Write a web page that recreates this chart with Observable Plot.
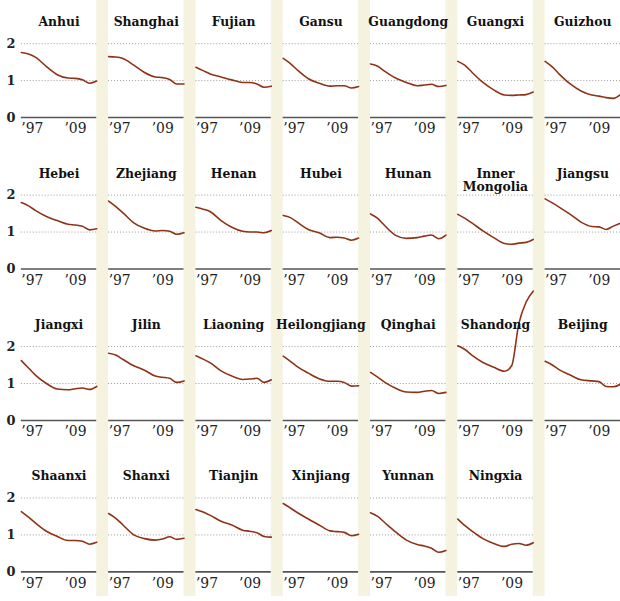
<!DOCTYPE html>
<html><head><meta charset="utf-8">
<script src="https://cdn.jsdelivr.net/npm/d3@7"></script>
<script src="https://cdn.jsdelivr.net/npm/@observablehq/plot@0.6"></script>
<style>
html,body{margin:0;padding:0;background:#fff;overflow:hidden}
#chart{width:620px;height:601px;overflow:hidden;position:relative}
</style></head><body><div id="chart"></div>
<script>
const years = [1997, 1999, 2001, 2004, 2007, 2010, 2012, 2014, 2016, 2018];
const provinces = ["Anhui","Shanghai","Fujian","Gansu","Guangdong","Guangxi","Guizhou",
  "Hebei","Zhejiang","Henan","Hubei","Hunan","Inner Mongolia","Jiangsu",
  "Jiangxi","Jilin","Liaoning","Heilongjiang","Qinghai","Shandong","Beijing",
  "Shaanxi","Shanxi","Tianjin","Xinjiang","Yunnan","Ningxia"];
const anhui     = [1.76, 1.72, 1.63, 1.38, 1.16, 1.07, 1.06, 1.02, 0.93, 0.99];
const shanghai  = [1.65, 1.64, 1.60, 1.42, 1.22, 1.10, 1.08, 1.03, 0.91, 0.91];
const fujian    = [1.36, 1.27, 1.18, 1.10, 1.02, 0.95, 0.95, 0.91, 0.82, 0.85];
const gansu     = [1.60, 1.46, 1.28, 1.05, 0.93, 0.85, 0.86, 0.86, 0.80, 0.84];
const guangdong = [1.45, 1.39, 1.25, 1.07, 0.95, 0.86, 0.88, 0.90, 0.84, 0.87];
const guangxi   = [1.52, 1.41, 1.22, 0.95, 0.75, 0.61, 0.60, 0.61, 0.62, 0.69];
const guizhou   = [1.52, 1.37, 1.17, 0.91, 0.72, 0.61, 0.58, 0.54, 0.52, 0.62];
const hebei     = [1.80, 1.71, 1.58, 1.42, 1.31, 1.21, 1.19, 1.16, 1.06, 1.09];
const zhejiang  = [1.84, 1.69, 1.52, 1.25, 1.10, 1.03, 1.04, 1.02, 0.94, 0.98];
const henan     = [1.67, 1.62, 1.55, 1.31, 1.13, 1.02, 1.00, 1.00, 0.98, 1.04];
const hubei     = [1.45, 1.39, 1.26, 1.07, 0.98, 0.85, 0.86, 0.84, 0.78, 0.84];
const hunan     = [1.49, 1.37, 1.17, 0.91, 0.83, 0.85, 0.89, 0.92, 0.82, 0.92];
const innerMongolia = [1.48, 1.37, 1.24, 1.03, 0.85, 0.69, 0.67, 0.70, 0.72, 0.80];
const jiangsu   = [1.90, 1.79, 1.67, 1.48, 1.27, 1.15, 1.14, 1.07, 1.16, 1.24];
const jiangxi   = [1.62, 1.42, 1.22, 1.00, 0.85, 0.83, 0.86, 0.88, 0.84, 0.92];
const jilin     = [1.82, 1.77, 1.65, 1.48, 1.36, 1.20, 1.17, 1.14, 1.03, 1.07];
const liaoning  = [1.75, 1.66, 1.56, 1.34, 1.20, 1.11, 1.12, 1.14, 1.03, 1.10];
const heilongjiang = [1.74, 1.60, 1.45, 1.28, 1.13, 1.06, 1.06, 1.03, 0.93, 0.94];
const qinghai   = [1.30, 1.17, 1.03, 0.87, 0.77, 0.76, 0.79, 0.81, 0.73, 0.76];
const shandong  = [2.02, 1.92, 1.76, 1.57, 1.44, 1.33, 1.48, 2.62, 3.20, 3.50];
const beijing   = [1.60, 1.50, 1.37, 1.23, 1.10, 1.07, 1.05, 0.92, 0.91, 0.98];
const shaanxi   = [1.63, 1.48, 1.32, 1.10, 0.96, 0.85, 0.85, 0.83, 0.75, 0.80];
const shanxi    = [1.58, 1.45, 1.27, 1.00, 0.90, 0.86, 0.89, 0.95, 0.88, 0.91];
const tianjin   = [1.69, 1.62, 1.53, 1.37, 1.27, 1.13, 1.10, 1.06, 0.96, 0.94];
const xinjiang  = [1.85, 1.73, 1.60, 1.43, 1.27, 1.11, 1.09, 1.07, 0.98, 1.02];
const yunnan    = [1.60, 1.50, 1.33, 1.08, 0.86, 0.74, 0.70, 0.64, 0.53, 0.58];
const ningxia   = [1.43, 1.25, 1.10, 0.90, 0.77, 0.69, 0.75, 0.77, 0.72, 0.79];
const series = [anhui, shanghai, fujian, gansu, guangdong, guangxi, guizhou,
  hebei, zhejiang, henan, hubei, hunan, innerMongolia, jiangsu,
  jiangxi, jilin, liaoning, heilongjiang, qinghai, shandong, beijing,
  shaanxi, shanxi, tianjin, xinjiang, yunnan, ningxia];
const yTicks = [0, 1, 2];
const gridValues = [1, 2];
const xTicks = [1997, 2009];
const ncol = 7;

const rows = [];
provinces.forEach((name, i) => years.forEach((yr, j) =>
  rows.push({name, col: i % ncol, row: Math.floor(i / ncol), year: yr, value: series[i][j]})));
const labels = provinces.map((name, i) => ({
  name: name === "Inner Mongolia" ? "Inner\nMongolia" : name,
  col: i % ncol, row: Math.floor(i / ncol)}));

const chart = Plot.plot({
  width: 625, height: 601,
  marginLeft: 21, marginRight: 0, marginTop: 10, marginBottom: 25,
  style: {fontFamily: "DejaVu Serif", fontSize: "13px", color: "#222", background: "transparent"},
  fx: {axis: null, domain: d3.range(7), paddingInner: 12 / 88, paddingOuter: 0, round: false},
  fy: {axis: null, domain: d3.range(4), paddingInner: 0.2926, paddingOuter: 0, round: false},
  x: {domain: [1997, 2018]},
  y: {domain: [0, 2.9]},
  marks: [
    Plot.ruleY(gridValues, {stroke: "#9a9a9a", strokeDasharray: "1,2", strokeWidth: 1}),
    Plot.ruleY([0], {stroke: "#555", strokeWidth: 1.6}),
    Plot.axisX(xTicks, {tickSize: 0, tickPadding: 6, textAnchor: "start", facetAnchor: null, label: null,
      tickFormat: d => "\u2019" + String(d).slice(2), fontSize: 14, fill: "#222"}),
    Plot.axisY(yTicks, {anchor: "left", tickSize: 0, tickPadding: 6, label: null, fontSize: 13, fontWeight: "bold", fill: "#222"}),
    Plot.line(rows, {fx: "col", fy: "row", x: "year", y: "value", stroke: "#8e3315", strokeWidth: 1.6, curve: "monotone-x"}),
    Plot.text(labels, {fx: "col", fy: "row", text: "name", frameAnchor: "top", lineAnchor: "top",
      dy: 6, fontWeight: "bold", fontSize: 12.5, fill: "#111", lineHeight: 1.1})
  ]
});

// stripes in the gaps between facet columns, from the fx scale
const fx = chart.scale("fx");
const ns = "http://www.w3.org/2000/svg";
const g = document.createElementNS(ns, "g");
fx.domain.slice(0, -1).forEach(v => {
  const r = document.createElementNS(ns, "rect");
  r.setAttribute("x", fx.apply(v) + fx.bandwidth);
  r.setAttribute("width", fx.step - fx.bandwidth);
  r.setAttribute("y", 0);
  r.setAttribute("height", 601);
  r.setAttribute("fill", "#f5f3e0");
  g.appendChild(r);
});
const svg = chart.tagName.toLowerCase() === "svg" ? chart : chart.querySelector("svg");
svg.insertBefore(g, svg.firstChild);
document.getElementById("chart").appendChild(chart);
</script></body></html>
